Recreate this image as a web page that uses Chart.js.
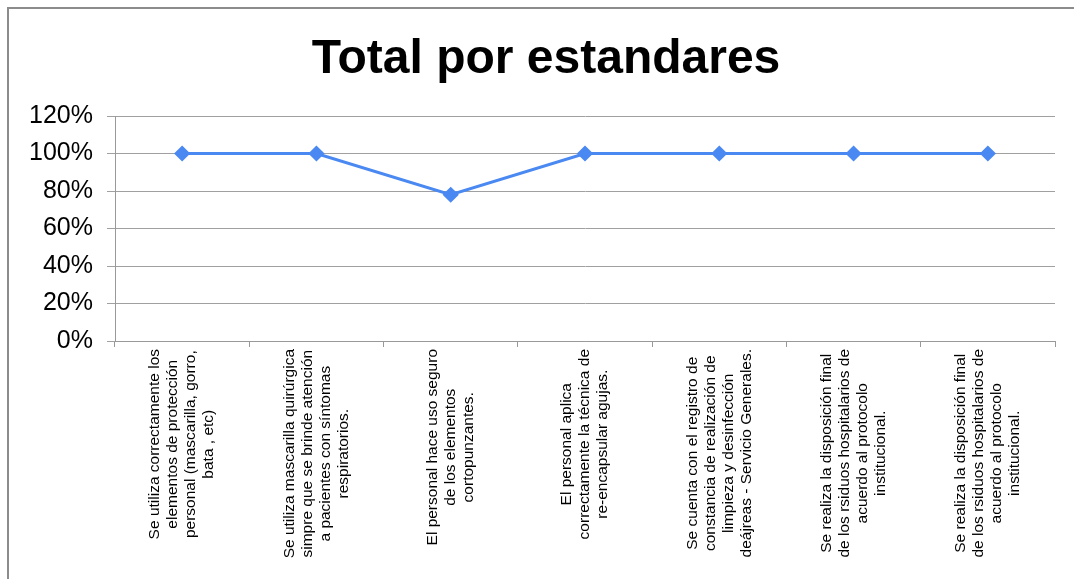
<!DOCTYPE html>
<html>
<head>
<meta charset="utf-8">
<script src="https://cdn.jsdelivr.net/npm/chart.js@4/dist/chart.umd.min.js"></script>
<style>
  body { margin: 0; background: #fff; overflow: hidden; }
  #frame { position: absolute; left: 7px; top: 7px; width: 1100px; height: 600px; border: 2px solid #8c8c8c; box-sizing: border-box; }
  #wrap { position: absolute; left: 0; top: 0; width: 1074px; height: 579px; }
</style>
</head>
<body>
<div id="frame"></div>
<div id="wrap"><canvas id="lineChart" width="1074" height="579"></canvas></div>
<script>
// categorias (eje x), cada una en varias lineas
var categorias = [
  ["Se utiliza correctamente los", "elementos de protección", "personal (mascarilla, gorro,", "bata , etc)"],
  ["Se utiliza mascarilla quirúrgica", "simpre que se brinde atención", "a pacientes con síntomas", "respiratorios."],
  ["El personal hace uso seguro", "de los elementos", "cortopunzantes."],
  ["El personal aplica", "correctamente la técnica de", "re-encapsular agujas."],
  ["Se cuenta con el registro de", "constancia de realización de", "limpieza y desinfección", "deájreas - Servicio Generales."],
  ["Se realiza la disposición final", "de los rsiduos hospitalarios de", "acuerdo al protocolo", "institucional."],
  ["Se realiza la disposición final", "de los rsiduos hospitalarios de", "acuerdo al protocolo", "institucional."]
];
var valores = [1, 1, 0.78, 1, 1, 1, 1];
var titulo = "Total por estandares";

var fuente = "Arial, 'Liberation Sans', sans-serif";

// titulo y etiquetas del eje x (centradas linea por linea, giradas 90 grados)
var textos = {
  id: 'textos',
  afterDraw: function (chart) {
    var ctx = chart.ctx;
    var sx = chart.scales.x;
    ctx.save();
    ctx.fillStyle = "#000";
    ctx.textAlign = "center";
    ctx.textBaseline = "middle";
    ctx.font = "bold 48px " + fuente;
    ctx.fillText(titulo, chart.width / 2 + 9, 60);

    var top = sx.top + 8;
    ctx.font = "15.5px " + fuente;
    var lh = 18;
    categorias.forEach(function (lineas, i) {
      var cx = sx.getPixelForTick(i);
      var maxW = 0;
      lineas.forEach(function (l) { maxW = Math.max(maxW, ctx.measureText(l).width); });
      ctx.save();
      ctx.translate(cx, top);
      ctx.rotate(-Math.PI / 2);
      lineas.forEach(function (l, j) {
        ctx.fillText(l, -maxW / 2, (j - (lineas.length - 1) / 2) * lh);
      });
      ctx.restore();
    });
    ctx.restore();
  }
};

var lineData = {
  labels: categorias.map(function (c) { return c.join(" "); }),
  datasets: [
    {
      data: valores,
      fill: false,
      borderColor: "#4a88f2",
      backgroundColor: "#4a88f2",
      borderWidth: 3,
      pointStyle: "rectRot",
      pointRadius: 6,
      pointHoverRadius: 6,
      lineTension: 0
    }
  ]
};

var myLineChart = new Chart(document.getElementById('lineChart').getContext('2d'), {
  type: 'line',
  data: lineData,
  options: {
    responsive: false,
    animation: false,
    layout: { padding: { top: 116, left: 20, right: 19, bottom: 0 } },
    plugins: {
      legend: { display: false },
      tooltip: { enabled: false },
      title: { display: false }
    },
    scales: {
      x: {
        offset: true,
        grid: { offset: true, drawOnChartArea: false, drawTicks: true, tickLength: 6, color: "#999" },
        border: { display: true, color: "#999" },
        ticks: { display: false, autoSkip: false },
        afterFit: function (s) { s.height = 238; }
      },
      y: {
        min: 0,
        max: 1.2,
        ticks: {
          stepSize: 0.2,
          color: "#000",
          padding: 14,
          font: { family: fuente, size: 25 },
          callback: function (v) { return Math.round(v * 100) + "%"; }
        },
        grid: { color: "#a0a0a0", tickLength: 8 },
        border: { display: true, color: "#999" },
        afterFit: function (s) { s.width = 95; }
      }
    }
  },
  plugins: [textos]
});
</script>
</body>
</html>
